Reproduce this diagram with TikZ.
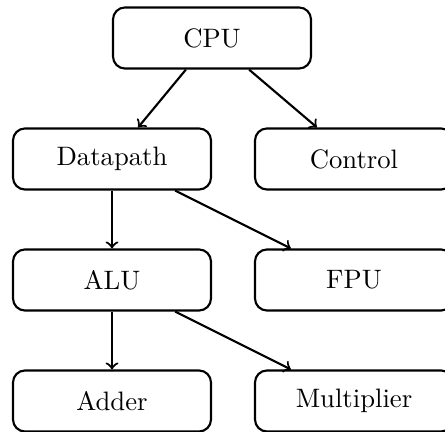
\documentclass[tikz,border=0pt]{standalone}
\begin{document}
\begin{tikzpicture}[x=0.375pt,y=-0.375pt,
  unit/.style={draw, thick, rounded corners=4.5pt, minimum width=74.25pt, minimum height=22.9pt, inner sep=0pt},
  link/.style={->, thick}]
  \useasboundingbox (0,0) rectangle (445,432);
  \clip (0,0) rectangle (445,432);
  \node[unit] (cpu)  at (212,38)  {CPU};
  \node[unit] (dp)   at (112,159) {Datapath};
  \node[unit] (ctl)  at (354,159) {Control};
  \node[unit] (alu)  at (112,280) {ALU};
  \node[unit] (fpu)  at (354,280) {FPU};
  \node[unit] (add)  at (112,401) {Adder};
  \node[unit] (mul)  at (354,401) {Multiplier};
  \draw[link] (cpu) -- (dp);
  \draw[link] (cpu) -- (ctl);
  \draw[link] (dp) -- (alu);
  \draw[link] (dp) -- (fpu);
  \draw[link] (alu) -- (add);
  \draw[link] (alu) -- (mul);
\end{tikzpicture}
\end{document}
